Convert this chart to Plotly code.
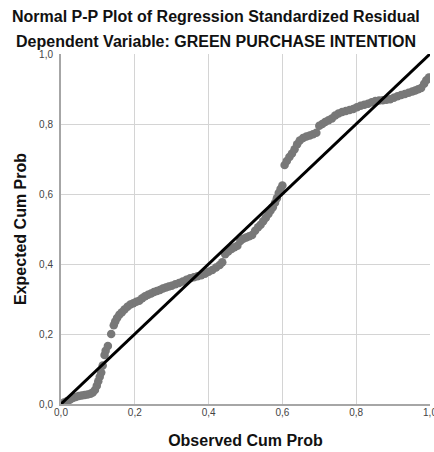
import plotly.graph_objects as go

observed = [0.000, 0.008, 0.016, 0.024, 0.032, 0.040, 0.048, 0.056, 0.064, 0.072,
            0.080, 0.086, 0.092, 0.097, 0.101, 0.105, 0.109, 0.113, 0.118, 0.121,
            0.127, 0.136, 0.143, 0.147, 0.152, 0.158, 0.165, 0.172, 0.180, 0.188,
            0.196, 0.204, 0.212, 0.220, 0.228, 0.236, 0.244, 0.252, 0.260, 0.268,
            0.276, 0.284, 0.292, 0.300, 0.310, 0.320, 0.330, 0.340, 0.350, 0.360,
            0.370, 0.380, 0.390, 0.400, 0.410, 0.420, 0.430, 0.437, 0.445, 0.453,
            0.462, 0.470, 0.478, 0.486, 0.494, 0.502, 0.510, 0.518, 0.526, 0.534,
            0.541, 0.548, 0.555, 0.562, 0.568, 0.574, 0.580, 0.585, 0.590, 0.595,
            0.600, 0.606, 0.612, 0.619, 0.626, 0.633, 0.640, 0.647, 0.656, 0.665,
            0.674, 0.683, 0.692, 0.700, 0.708, 0.716, 0.725, 0.734, 0.743, 0.752,
            0.762, 0.772, 0.782, 0.792, 0.802, 0.812, 0.822, 0.832, 0.842, 0.852,
            0.862, 0.872, 0.882, 0.892, 0.902, 0.912, 0.922, 0.932, 0.942, 0.952,
            0.960, 0.968, 0.976, 0.984, 0.990, 0.997]
expected = [0.000, 0.004, 0.008, 0.012, 0.017, 0.020, 0.023, 0.024, 0.026, 0.027,
            0.029, 0.033, 0.040, 0.052, 0.065, 0.078, 0.090, 0.110, 0.140, 0.152,
            0.166, 0.200, 0.225, 0.236, 0.246, 0.255, 0.262, 0.270, 0.278, 0.284,
            0.288, 0.292, 0.295, 0.302, 0.308, 0.312, 0.316, 0.320, 0.323, 0.326,
            0.330, 0.333, 0.336, 0.338, 0.342, 0.346, 0.350, 0.355, 0.359, 0.362,
            0.365, 0.368, 0.372, 0.378, 0.383, 0.390, 0.397, 0.405, 0.428, 0.436,
            0.443, 0.448, 0.452, 0.466, 0.472, 0.476, 0.479, 0.483, 0.495, 0.505,
            0.512, 0.522, 0.532, 0.543, 0.553, 0.562, 0.575, 0.588, 0.603, 0.614,
            0.624, 0.683, 0.694, 0.706, 0.716, 0.728, 0.742, 0.753, 0.760, 0.764,
            0.767, 0.771, 0.775, 0.795, 0.800, 0.806, 0.811, 0.816, 0.824, 0.830,
            0.834, 0.837, 0.840, 0.843, 0.848, 0.852, 0.855, 0.858, 0.862, 0.866,
            0.867, 0.868, 0.869, 0.871, 0.875, 0.879, 0.883, 0.886, 0.889, 0.893,
            0.896, 0.899, 0.903, 0.915, 0.925, 0.933]

ref_line = [0.0, 1.0]
tick_vals = [0.0, 0.2, 0.4, 0.6, 0.8, 1.0]
tick_text = ["0,0", "0,2", "0,4", "0,6", "0,8", "1,0"]

FONT = "Liberation Sans, Arial, sans-serif"

fig = go.Figure()
fig.add_trace(go.Scatter(
    x=observed, y=expected, mode="markers",
    marker=dict(size=8.5, color="#787878", line=dict(width=0)),
    showlegend=False, hoverinfo="skip"))
fig.add_trace(go.Scatter(
    x=ref_line, y=ref_line, mode="lines",
    line=dict(color="#000000", width=3),
    showlegend=False, hoverinfo="skip"))

axis_common = dict(
    range=[0, 1], tickvals=tick_vals, ticktext=tick_text,
    showgrid=True, gridcolor="#d4d4d4", gridwidth=1,
    zeroline=False, showline=True, linecolor="#a6a6a6", linewidth=2,
    ticks="", tickfont=dict(family=FONT, size=10, color="#444444"),
    automargin=False, ticklabeloverflow="allow",
)

plot_h = 452 - 54 - 48
TITLE_FONT = dict(family=FONT, size=16, color="#111111")

fig.update_layout(
    width=434, height=452,
    margin=dict(l=61, r=4, t=54, b=48),
    paper_bgcolor="white", plot_bgcolor="white",
    xaxis=dict(**axis_common, ticklabelstandoff=-2,
               title=dict(text="<b>Observed Cum Prob</b>", standoff=18,
                          font=TITLE_FONT)),
    yaxis=dict(**axis_common, ticklabelstandoff=4,
               title=dict(text="<b>Expected Cum Prob</b>", standoff=8,
                          font=TITLE_FONT)),
    annotations=[
        dict(text="<b>Normal P-P Plot of Regression Standardized Residual</b>",
             x=0.5, xref="paper", xanchor="center", xshift=-30,
             y=1 + (54 - 16) / plot_h, yref="paper", yanchor="middle", showarrow=False,
             font=TITLE_FONT),
        dict(text="<b>Dependent Variable: GREEN PURCHASE INTENTION</b>",
             x=0.5, xref="paper", xanchor="center", xshift=-30,
             y=1 + (54 - 41) / plot_h, yref="paper", yanchor="middle", showarrow=False,
             font=TITLE_FONT),
    ],
)

fig.write_html("out.html", config={"displayModeBar": False},
               post_script="document.body.style.margin='0';")
